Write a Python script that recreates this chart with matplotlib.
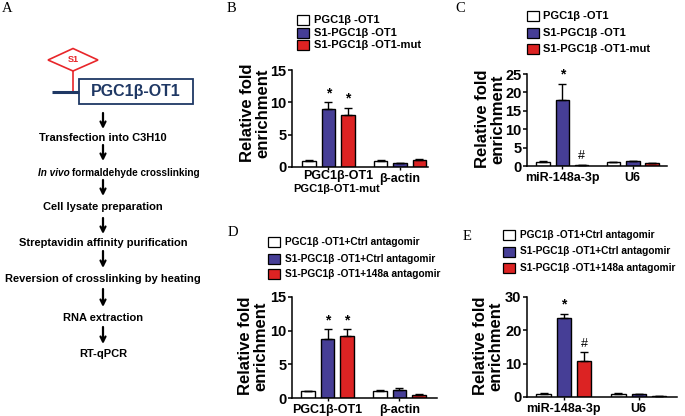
import matplotlib
matplotlib.use('Agg')
import matplotlib.pyplot as plt
from matplotlib.patches import Rectangle, Polygon

plt.rcParams['font.family'] = ['Liberation Sans', 'DejaVu Sans']

W, H = 685, 416

# ---------------- data ----------------
steps = ['Transfection into C3H10',
         'In vivo formaldehyde crosslinking',
         'Cell lysate preparation',
         'Streptavidin affinity purification',
         'Reversion of crosslinking by heating',
         'RNA extraction',
         'RT-qPCR']

series_bc = ['PGC1β -OT1', 'S1-PGC1β -OT1', 'S1-PGC1β -OT1-mut']
series_de = ['PGC1β -OT1+Ctrl antagomir', 'S1-PGC1β -OT1+Ctrl antagomir',
             'S1-PGC1β -OT1+148a antagomir']

b_groups = ['PGC1β-OT1', 'β-actin']
b_sub = 'PGC1β-OT1-mut'
b_vals = [[1.0, 1.0], [9.0, 0.6], [8.1, 1.1]]
b_errs = [[0.1, 0.1], [1.0, 0.05], [1.1, 0.15]]
b_marks = [['', ''], ['*', ''], ['*', '']]
b_yticks = [0, 5, 10, 15]

c_groups = ['miR-148a-3p', 'U6']
c_vals = [[1.0, 1.0], [17.8, 1.3], [0.3, 0.8]]
c_errs = [[0.3, 0.1], [4.5, 0.15], [0.1, 0.05]]
c_marks = [['', ''], ['*', ''], ['#', '']]
c_yticks = [0, 5, 10, 15, 20, 25]

d_groups = ['PGC1β-OT1', 'β-actin']
d_vals = [[1.0, 1.0], [8.7, 1.2], [9.2, 0.5]]
d_errs = [[0.05, 0.15], [1.5, 0.35], [1.0, 0.05]]
d_marks = [['', ''], ['*', ''], ['*', '']]
d_yticks = [0, 5, 10, 15]

e_groups = ['miR-148a-3p', 'U6']
e_vals = [[1.0, 1.0], [23.8, 0.9], [10.8, 0.3]]
e_errs = [[0.2, 0.1], [1.2, 0.15], [2.7, 0.05]]
e_marks = [['', ''], ['*', ''], ['#', '']]
e_yticks = [0, 10, 20, 30]

colors = ['#ffffff', '#463e96', '#dc2323']
navy = '#1f3864'

fig = plt.figure(figsize=(W / 100, H / 100), dpi=100)
renderer = fig.canvas.get_renderer()

# background axes in pixel coordinates for panel A, legends, labels
bg = fig.add_axes([0, 0, 1, 1])
bg.set_xlim(0, W)
bg.set_ylim(H, 0)
bg.axis('off')

# ---------- Panel A ----------
bg.add_patch(Polygon([(48, 60), (73, 48.5), (98, 60), (73, 71)], closed=True,
                     facecolor='white', edgecolor='#e8262a', lw=1.2))
bg.text(73, 60, 'S1', color='#e8262a', fontsize=6.5, fontweight='bold',
        ha='center', va='center')
bg.plot([73, 73], [71, 92], color='#e8262a', lw=1.2)
bg.plot([52, 79], [92, 92], color=navy, lw=2.2, solid_capstyle='butt')
bg.add_patch(Rectangle((79, 79), 114, 25, facecolor='white', edgecolor=navy, lw=1.3))
bg.text(136, 91.5, 'PGC1β-OT1', color=navy, fontsize=11.5, fontweight='bold',
        ha='center', va='center')

step_y = [138, 173, 207, 243, 279, 318, 354]
arrow_spans = [(113, 129), (145, 161), (180, 196), (218, 234), (251, 268), (289, 307), (327, 344)]
for (y0, y1) in arrow_spans:
    bg.annotate('', xy=(103, y1), xytext=(103, y0),
                arrowprops=dict(arrowstyle='->', lw=1.6, color='black',
                                mutation_scale=9, shrinkA=0, shrinkB=0))
for s, y in zip(steps, step_y):
    if s.startswith('In vivo'):
        t1 = bg.text(38, y, 'In vivo', fontsize=7.2, fontweight='bold', style='italic',
                     ha='left', va='center')
        ext = t1.get_window_extent(renderer)
        bg.text(ext.x1 + 2.2, y, s[len('In vivo '):], fontsize=7.2, fontweight='bold',
                ha='left', va='center')
    else:
        bg.text(103, y, s, fontsize=8, fontweight='bold', ha='center', va='center')

# panel letters
for lab, (x, y) in zip('ABCDE', [(2, 9), (227, 9), (455, 9), (228, 233), (463, 237)]):
    bg.text(x, y, lab, family='Liberation Serif', fontsize=10.5, ha='left', va='center')


def legend(x_sq, x_txt, rows, labels, fs):
    for y, lab, c in zip(rows, labels, colors):
        bg.add_patch(Rectangle((x_sq, y - 5), 12, 10, facecolor=c, edgecolor='black', lw=0.9))
        bg.text(x_txt, y, lab, fontsize=fs, fontweight='bold', ha='left', va='center')


def panel(box, c0, s, gap, groups, vals, errs, marks, yticks, ylab_xy):
    left, top, right, bottom = box
    ax = fig.add_axes([left / W, 1 - bottom / H, (right - left) / W, (bottom - top) / H])
    ax.patch.set_alpha(0)
    xlo = (left - c0) / s
    xhi = (right - c0) / s
    for si in range(3):
        xs = [g * gap + si for g in range(len(groups))]
        ax.bar(xs, vals[si], width=0.7, color=colors[si], edgecolor='black', lw=1.0, zorder=2)
        ax.errorbar(xs, vals[si], yerr=[[0] * len(xs), errs[si]], fmt='none',
                    ecolor='black', elinewidth=1.0, capsize=3, capthick=1.0, zorder=3)
        for x, v, e, m in zip(xs, vals[si], errs[si], marks[si]):
            if m:
                ax.annotate(m, (x, v + e), xytext=(0, 1.5), textcoords='offset points',
                            ha='center', va='bottom', fontsize=9 if m == '#' else 10,
                            fontweight='normal' if m == '#' else 'bold')
    ax.set_xlim(xlo, xhi)
    ax.set_ylim(0, yticks[-1])
    ax.set_yticks(yticks)
    ax.set_xticks([g * gap + 1 for g in range(len(groups))])
    ax.set_xticklabels(groups, fontsize=9, fontweight='bold')
    for t in ax.get_yticklabels():
        t.set_fontweight('bold')
        t.set_fontsize(10.5)
    for sp in ['top', 'right']:
        ax.spines[sp].set_visible(False)
    for sp in ['left', 'bottom']:
        ax.spines[sp].set_linewidth(1.1)
    ax.tick_params(axis='y', direction='out', length=3, width=1.1, pad=1)
    ax.tick_params(axis='x', direction='out', length=2.5, width=1.0, pad=1.5)
    bg.text(ylab_xy[0], ylab_xy[1], 'Relative fold\nenrichment', rotation=90,
            fontsize=12, fontweight='bold', ha='center', va='center', linespacing=1.05)
    return ax


axB = panel((292, 70, 428, 167), 309, 19.4, 3.69, ['', b_groups[1]], b_vals, b_errs,
            b_marks, b_yticks, (255, 113))
bg.text(338, 176.5, b_groups[0], fontsize=9, fontweight='bold', ha='center', va='center')
bg.text(337, 189.5, b_sub, fontsize=8, fontweight='bold', ha='center', va='center')
legend(297, 314, [20, 32.5, 45], series_bc, 8)

panel((527, 74, 667, 166), 543, 19.3, 3.65, c_groups, c_vals, c_errs, c_marks, c_yticks, (490, 119))
legend(527, 543, [16, 33, 49], series_bc, 8)

panel((292, 297, 437, 398), 308, 19.5, 3.69, d_groups, d_vals, d_errs, d_marks, d_yticks, (253, 346))
legend(268, 285, [242, 258.5, 274], series_de, 7.3)

panel((527, 297, 677, 397), 543.5, 20.3, 3.69, e_groups, e_vals, e_errs, e_marks, e_yticks, (488, 346))
legend(503, 520, [235, 251.5, 268], series_de, 7.3)

fig.savefig('out.png', dpi=100)
